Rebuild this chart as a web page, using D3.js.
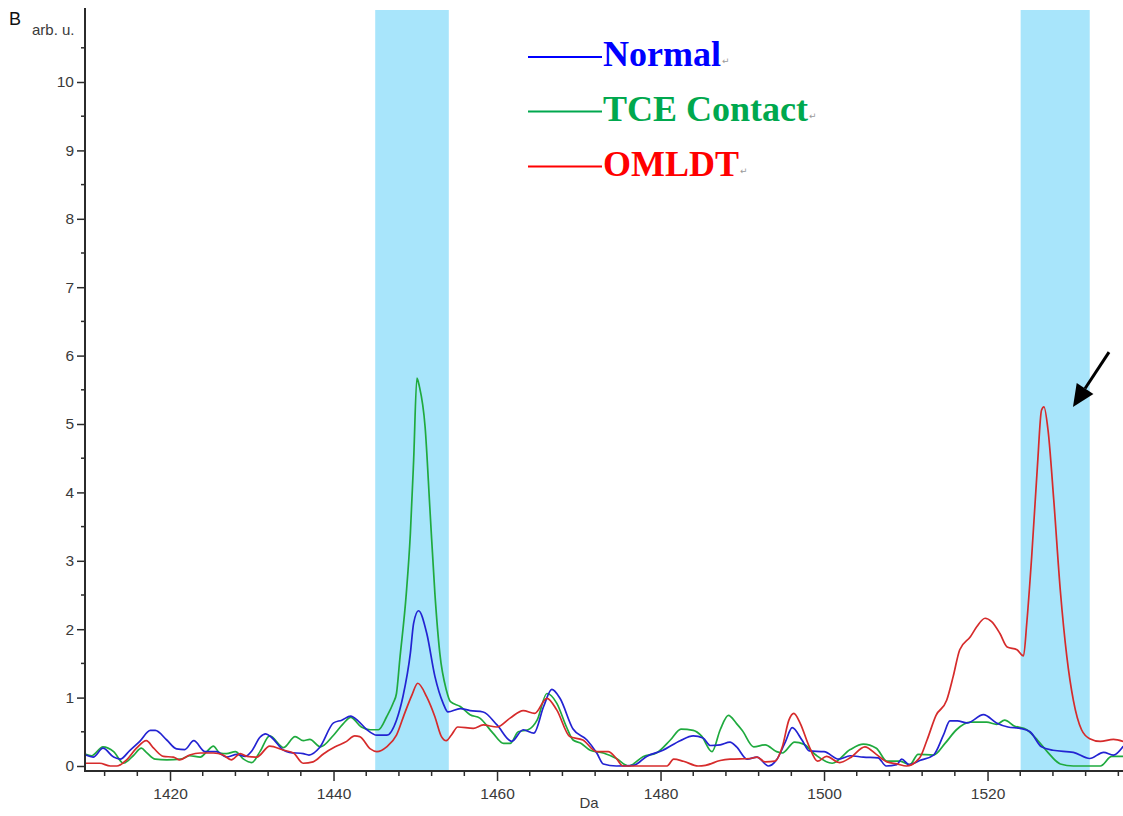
<!DOCTYPE html>
<html>
<head>
<meta charset="utf-8">
<script src="https://cdn.jsdelivr.net/npm/d3@7"></script>
<style>
  html, body { margin: 0; padding: 0; background: #fff; }
  svg { display: block; }
</style>
</head>
<body>
<svg id="chart" width="1123" height="816"></svg>
<script>
// Mass spectrum intensity (arb. u.) against m/z (Da), three sample groups.

const seriesNames = ["Normal", "TCE Contact", "OMLDT"];

// [Da, intensity] samples along each trace
const normalPoints = [
  [1409.7,0.16],[1410.6,0.13],[1411.8,0.26],[1413.1,0.13],[1413.9,0.10],[1415.1,0.23],
  [1416.3,0.36],[1417.6,0.52],[1418.2,0.52],[1419.6,0.38],[1420.8,0.25],[1421.8,0.24],
  [1422.9,0.37],[1424.3,0.21],[1425.7,0.21],[1426.9,0.13],[1428.2,0.17],[1429.2,0.14],
  [1430.0,0.22],[1431.0,0.42],[1431.7,0.47],[1432.4,0.42],[1433.9,0.23],[1434.6,0.20],
  [1436.3,0.18],[1437.0,0.16],[1438.3,0.27],[1440.0,0.63],[1441.0,0.67],[1442.1,0.73],
  [1443.0,0.66],[1444.1,0.53],[1445.3,0.45],[1446.5,0.45],[1447.7,0.67],[1448.5,1.02],
  [1449.4,1.65],[1449.8,2.09],[1450.4,2.27],[1451.4,1.94],[1452.4,1.31],[1453.4,0.92],
  [1454.0,0.79],[1455.5,0.84],[1456.7,0.81],[1458.3,0.79],[1460.0,0.60],[1461.8,0.36],
  [1463.2,0.53],[1464.5,0.48],[1465.7,0.87],[1466.7,1.12],[1467.7,0.99],[1469.3,0.54],
  [1471.0,0.38],[1472.2,0.19],[1473.0,0.03],[1474.6,0.00],[1476.7,0.01],[1478.3,0.14],
  [1480.3,0.23],[1482.4,0.37],[1484.0,0.44],[1485.2,0.41],[1486.1,0.30],[1487.3,0.31],
  [1488.5,0.35],[1489.3,0.28],[1490.6,0.10],[1491.8,0.13],[1493.2,0.00],[1494.2,0.09],
  [1495.3,0.36],[1496.1,0.56],[1497.3,0.38],[1498.2,0.22],[1500.0,0.21],[1501.8,0.10],
  [1503.2,0.15],[1504.8,0.13],[1506.6,0.12],[1507.6,0.00],[1508.9,0.02],[1509.5,0.10],
  [1510.4,0.02],[1511.7,0.08],[1513.4,0.16],[1514.6,0.45],[1515.4,0.66],[1516.3,0.66],
  [1517.5,0.63],[1519.5,0.75],[1521.1,0.63],[1522.5,0.57],[1524.0,0.55],[1525.2,0.50],
  [1526.6,0.28],[1528.0,0.23],[1530.5,0.20],[1532.5,0.11],[1534.2,0.20],[1535.4,0.16],
  [1536.6,0.29]
];

const tcePoints = [
  [1409.7,0.17],[1410.4,0.15],[1411.8,0.28],[1413.1,0.21],[1414.3,0.04],[1415.5,0.15],
  [1416.5,0.26],[1417.1,0.20],[1418.2,0.10],[1419.6,0.09],[1421.3,0.10],[1422.4,0.15],
  [1423.7,0.13],[1424.5,0.21],[1425.3,0.29],[1426.1,0.19],[1426.9,0.18],[1428.0,0.21],
  [1429.0,0.10],[1430.0,0.05],[1431.0,0.21],[1432.2,0.44],[1433.9,0.27],[1435.3,0.43],
  [1436.3,0.37],[1437.1,0.39],[1438.4,0.28],[1440.0,0.45],[1441.2,0.62],[1442.1,0.71],
  [1443.4,0.57],[1444.5,0.53],[1445.5,0.53],[1446.5,0.72],[1447.3,0.92],[1447.7,1.06],
  [1448.1,1.55],[1448.9,2.52],[1449.4,3.40],[1449.8,4.47],[1450.2,5.67],[1450.5,5.55],
  [1451.2,4.96],[1451.8,3.74],[1452.4,2.52],[1453.0,1.65],[1453.8,1.11],[1454.3,0.94],
  [1455.5,0.87],[1456.7,0.75],[1457.9,0.70],[1459.5,0.48],[1460.8,0.33],[1461.6,0.33],
  [1462.6,0.50],[1463.8,0.53],[1464.9,0.67],[1466.1,1.06],[1467.3,0.92],[1468.5,0.57],
  [1469.3,0.38],[1470.3,0.33],[1471.4,0.23],[1473.0,0.19],[1474.6,0.11],[1476.1,0.00],
  [1477.9,0.14],[1479.5,0.19],[1481.2,0.38],[1482.5,0.54],[1484.0,0.52],[1485.0,0.44],
  [1486.3,0.21],[1487.3,0.53],[1488.3,0.74],[1489.3,0.62],[1490.0,0.52],[1491.4,0.28],
  [1492.8,0.31],[1494.2,0.21],[1494.9,0.19],[1496.4,0.35],[1497.5,0.32],[1499.0,0.16],
  [1501.0,0.04],[1503.2,0.24],[1504.8,0.32],[1506.4,0.26],[1507.7,0.07],[1509.3,0.07],
  [1510.5,0.02],[1511.5,0.17],[1513.4,0.16],[1514.8,0.33],[1516.2,0.53],[1517.9,0.64],
  [1519.9,0.64],[1521.1,0.61],[1522.1,0.67],[1523.2,0.59],[1524.8,0.53],[1526.1,0.38],
  [1527.3,0.21],[1528.9,0.03],[1530.5,0.00],[1533.8,0.00],[1535.2,0.14],[1536.6,0.14]
];

const omldtPoints = [
  [1409.7,0.04],[1411.4,0.04],[1412.7,0.00],[1413.5,0.00],[1414.7,0.09],[1415.9,0.26],
  [1417.1,0.37],[1418.0,0.26],[1419.2,0.14],[1420.4,0.13],[1421.2,0.09],[1422.4,0.16],
  [1423.7,0.19],[1425.3,0.19],[1426.5,0.16],[1427.5,0.09],[1428.6,0.18],[1429.4,0.14],
  [1430.6,0.13],[1432.2,0.29],[1433.9,0.23],[1435.1,0.19],[1436.3,0.04],[1437.5,0.06],
  [1438.8,0.18],[1440.2,0.28],[1441.6,0.36],[1442.6,0.44],[1443.2,0.43],[1444.5,0.25],
  [1445.3,0.21],[1446.5,0.28],[1447.7,0.45],[1448.7,0.77],[1449.6,1.04],[1450.3,1.21],
  [1451.4,1.01],[1452.4,0.72],[1453.2,0.43],[1453.8,0.37],[1454.4,0.45],[1455.2,0.57],
  [1457.1,0.55],[1458.3,0.60],[1460.0,0.57],[1461.6,0.70],[1463.2,0.81],[1464.6,0.77],
  [1466.1,0.99],[1467.3,0.82],[1468.9,0.43],[1470.5,0.38],[1472.2,0.21],[1473.6,0.21],
  [1474.6,0.11],[1475.4,0.00],[1480.8,0.00],[1481.6,0.10],[1482.8,0.07],[1484.6,0.00],
  [1485.5,0.01],[1487.3,0.08],[1488.5,0.10],[1491.0,0.11],[1491.8,0.13],[1492.8,0.06],
  [1494.0,0.07],[1494.9,0.28],[1495.7,0.67],[1496.3,0.77],[1497.1,0.62],[1498.1,0.31],
  [1499.2,0.07],[1500.3,0.14],[1501.9,0.05],[1503.2,0.12],[1505.0,0.28],[1506.4,0.17],
  [1507.7,0.06],[1508.9,0.03],[1510.1,0.00],[1511.7,0.12],[1512.6,0.38],[1513.7,0.74],
  [1515.0,0.96],[1515.8,1.31],[1516.6,1.70],[1517.9,1.89],[1518.7,2.04],[1519.7,2.16],
  [1520.5,2.11],[1521.5,1.94],[1522.4,1.74],[1523.6,1.70],[1524.4,1.61],[1524.8,2.09],
  [1525.4,3.06],[1526.1,4.38],[1526.6,5.20],[1526.9,5.25],[1527.4,4.91],[1528.1,3.89],
  [1528.9,2.57],[1529.7,1.60],[1530.5,0.96],[1531.5,0.53],[1532.5,0.40],[1533.8,0.36],
  [1535.4,0.39],[1536.6,0.36]
];

// Highlighted m/z windows [from, to]
const highlightBands = [[1445.1, 1454.1], [1524.05, 1532.5]];

// Axis ticks
const xMajorTicks = [1420, 1440, 1460, 1480, 1500, 1520];
const xMinorTicks = d3.range(1412, 1537, 4);
const yMajorTicks = [0, 1, 2, 3, 4, 5, 6, 7, 8, 9, 10];
const yMinorTicks = d3.range(0.5, 10.6, 1);

// Annotation arrow pointing at the OMLDT peak: [Da, intensity] start and tip
const arrowFrom = [1534.86, 6.05];
const arrowTo = [1530.45, 5.25];

const colors = { "Normal": "#2323d2", "TCE Contact": "#1faa3e", "OMLDT": "#d62b2b" };
const legendColors = { "Normal": "#0000ff", "TCE Contact": "#00a84e", "OMLDT": "#ff0000" };

const svg = d3.select("#chart");
const W = 1123, H = 816;

const x = d3.scaleLinear().domain([1409.6, 1536.57]).range([85, 1123]);
const y = d3.scaleLinear().domain([0, 10]).range([766, 82]);
const plotTop = 8, axisY = 771;

svg.append("defs").append("clipPath").attr("id", "plotClip")
  .append("rect").attr("x", 85).attr("y", plotTop).attr("width", W - 85).attr("height", axisY - plotTop);

// Shaded windows
svg.append("g").selectAll("rect").data(highlightBands).join("rect")
  .attr("x", d => x(d[0]))
  .attr("width", d => x(d[1]) - x(d[0]))
  .attr("y", 10)
  .attr("height", axisY - 1 - 10)
  .attr("fill", "#a8e5fb");

// Spectrum traces
const line = d3.line().x(d => x(d[0])).y(d => y(d[1])).curve(d3.curveMonotoneX);
const traces = [
  { name: "TCE Contact", pts: tcePoints },
  { name: "Normal", pts: normalPoints },
  { name: "OMLDT", pts: omldtPoints }
];
svg.append("g").attr("clip-path", "url(#plotClip)")
  .selectAll("path").data(traces).join("path")
  .attr("d", d => line(d.pts))
  .attr("fill", "none")
  .attr("stroke", d => colors[d.name])
  .attr("stroke-width", 1.7)
  .attr("stroke-linejoin", "round");

// Axes
const axisColor = "#2b2b2b";
const labelColor = "#3a3a3a";
const font = "'Liberation Sans', Arial, sans-serif";

const yAxis = svg.append("g").attr("transform", "translate(85,0)")
  .call(d3.axisLeft(y).tickValues(yMajorTicks).tickSize(8).tickPadding(3).tickFormat(d3.format("d")));
yAxis.select(".domain").remove();
yAxis.selectAll(".tick line").attr("stroke", axisColor).attr("stroke-width", 1.5);
yAxis.selectAll(".tick text").attr("fill", labelColor).style("font-family", font).style("font-size", "15.5px");

svg.append("g").selectAll("line").data(yMinorTicks).join("line")
  .attr("x1", 81).attr("x2", 85).attr("y1", d => y(d)).attr("y2", d => y(d))
  .attr("stroke", axisColor).attr("stroke-width", 1.5);

const xAxis = svg.append("g").attr("transform", `translate(0,${axisY})`)
  .call(d3.axisBottom(x).tickValues(xMajorTicks).tickSize(10).tickPadding(7).tickFormat(d3.format("d")));
xAxis.select(".domain").remove();
xAxis.selectAll(".tick line").attr("stroke", axisColor).attr("stroke-width", 1.5);
xAxis.selectAll(".tick text").attr("fill", labelColor).style("font-family", font).style("font-size", "15.5px");

svg.append("g").selectAll("line").data(xMinorTicks.filter(v => !xMajorTicks.includes(v))).join("line")
  .attr("x1", d => x(d)).attr("x2", d => x(d)).attr("y1", axisY).attr("y2", axisY + 5)
  .attr("stroke", axisColor).attr("stroke-width", 1.5);

// Axis lines
svg.append("line").attr("x1", 85).attr("x2", 85).attr("y1", plotTop).attr("y2", axisY + 1)
  .attr("stroke", axisColor).attr("stroke-width", 2);
svg.append("line").attr("x1", 84).attr("x2", W).attr("y1", axisY).attr("y2", axisY)
  .attr("stroke", axisColor).attr("stroke-width", 2);

// Axis titles and panel letter
svg.append("text").attr("x", 589).attr("y", 808).attr("text-anchor", "middle")
  .attr("fill", labelColor).style("font-family", font).style("font-size", "15px").text("Da");
svg.append("text").attr("x", 32).attr("y", 35)
  .attr("fill", labelColor).style("font-family", font).style("font-size", "15px").text("arb. u.");
svg.append("text").attr("x", 9).attr("y", 25)
  .attr("fill", "#111").style("font-family", font).style("font-size", "18px").text("B");

// Legend
const legendRows = [
  { name: seriesNames[0], ly: 57, ty: 66 },
  { name: seriesNames[1], ly: 111.5, ty: 121 },
  { name: seriesNames[2], ly: 166.5, ty: 176 }
];
const lg = svg.append("g");
legendRows.forEach(r => {
  lg.append("line").attr("x1", 528).attr("x2", 602).attr("y1", r.ly).attr("y2", r.ly)
    .attr("stroke", legendColors[r.name]).attr("stroke-width", 2);
  const t = lg.append("text").attr("x", 603).attr("y", r.ty)
    .attr("fill", legendColors[r.name])
    .style("font-family", "'Liberation Serif', 'Times New Roman', serif")
    .style("font-weight", "bold").style("font-size", "36px").text(r.name);
  const w = t.node().getComputedTextLength();
  lg.append("text").attr("x", 603 + w + 1).attr("y", r.ty - 2)
    .attr("fill", "#9a9a9a").style("font-family", "'DejaVu Sans', sans-serif")
    .style("font-size", "9px").text("\u21b5");
});

// Arrow annotation
const ax0 = x(arrowFrom[0]), ay0 = y(arrowFrom[1]);
const ax1 = x(arrowTo[0]), ay1 = y(arrowTo[1]);
const ang = Math.atan2(ay1 - ay0, ax1 - ax0);
const headLen = 22, headHalf = 10;
const bx = ax1 - headLen * Math.cos(ang), by = ay1 - headLen * Math.sin(ang);
svg.append("line").attr("x1", ax0).attr("y1", ay0).attr("x2", bx).attr("y2", by)
  .attr("stroke", "#000").attr("stroke-width", 3);
svg.append("path")
  .attr("d", `M${ax1},${ay1} L${bx + headHalf * Math.sin(ang)},${by - headHalf * Math.cos(ang)} L${bx - headHalf * Math.sin(ang)},${by + headHalf * Math.cos(ang)} Z`)
  .attr("fill", "#000");
</script>
</body>
</html>
